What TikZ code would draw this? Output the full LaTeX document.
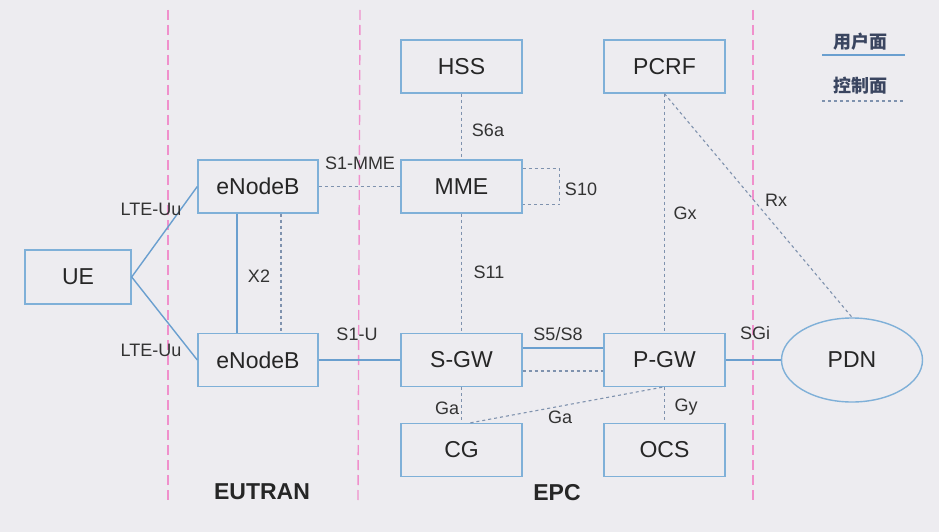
\documentclass[tikz,border=0pt]{standalone}
\usepackage{fontspec}
\setmainfont{Liberation Sans}
\newfontfamily\cjk{Noto Sans CJK SC}
\usetikzlibrary{shapes.geometric}
\definecolor{bg}{HTML}{EDECF0}
\definecolor{boxc}{HTML}{7FB0D8}
\definecolor{linec}{HTML}{6A9FCF}
\definecolor{dashc}{HTML}{7F92AE}
\definecolor{pinkc}{HTML}{F090CC}
\definecolor{txt}{HTML}{262626}
\definecolor{lbltxt}{HTML}{333333}
\definecolor{legc}{HTML}{3A4560}
\tikzset{
  nebox/.style={draw=boxc, line width=1.4pt, minimum width=121pt, minimum height=53pt, inner sep=0pt, text=txt, font=\fontsize{23}{26}\selectfont},
  uplane/.style={draw=linec, line width=1.4pt},
  ctrl/.style={draw=dashc, line width=1.1pt, dash pattern=on 3pt off 3pt},
  divider/.style={draw=pinkc, line width=1.4pt, dash pattern=on 10pt off 5pt},
  lbl/.style={text=lbltxt, font=\fontsize{18}{20}\selectfont, inner sep=0pt},
  domlabel/.style={text=txt, font=\fontsize{23}{26}\selectfont\bfseries, inner sep=0pt},
  legendtxt/.style={text=legc, font=\cjk\fontsize{18}{20}\selectfont\bfseries, inner sep=0pt}
}
\begin{document}
\begin{tikzpicture}[x=1pt,y=-1pt]
\useasboundingbox (0,0) rectangle (939,532);
\fill[bg] (0,0) rectangle (939,532);
% dividers
\coordinate (d1t) at (168,10); \coordinate (d1b) at (168,500);
\coordinate (d2t) at (360,10); \coordinate (d2b) at (358,500);
\coordinate (d3t) at (753,10); \coordinate (d3b) at (753,500);
\draw[divider] (d1t) -- (d1b);
\draw[divider] (d2t) -- (d2b);
\draw[divider] (d3t) -- (d3b);
% nodes
\node[nebox, minimum width=106pt, minimum height=54pt] (UE) at (78,277) {UE};
\node[nebox, minimum width=120pt] (eNB1) at (258,186.5) {eNodeB};
\node[nebox, minimum width=120pt] (eNB2) at (258,360) {eNodeB};
\node[nebox] (HSS) at (461.5,66.5) {HSS};
\node[nebox] (MME) at (461.5,186.5) {MME};
\node[nebox] (SGW) at (461.5,360) {S-GW};
\node[nebox] (CG) at (461.5,450) {CG};
\node[nebox] (PCRF) at (664.5,66.5) {PCRF};
\node[nebox] (PGW) at (664.5,360) {P-GW};
\node[nebox] (OCS) at (664.5,450) {OCS};
\node[nebox, ellipse, minimum width=141pt, minimum height=84pt] (PDN) at (852,360) {PDN};
% user plane
\draw[uplane] (UE.east) -- (eNB1.west);
\draw[uplane] (UE.east) -- (eNB2.west);
\draw[uplane] ([xshift=-21pt]eNB1.south) -- ([xshift=-21pt]eNB2.north);
\draw[uplane] (eNB2.east) -- (SGW.west);
\draw[uplane] ([yshift=12pt]SGW.east) -- ([yshift=12pt]PGW.west);
\draw[uplane] (PGW.east) -- (PDN.west);
% control plane
\draw[ctrl] ([xshift=23pt]eNB1.south) -- ([xshift=23pt]eNB2.north);
\draw[ctrl] (eNB1.east) -- (MME.west);
\draw[ctrl] (HSS.south) -- (MME.north);
\draw[ctrl] ([yshift=18pt]MME.east) -- ++(37pt,0) |- ([yshift=-18pt]MME.east);
\draw[ctrl] (MME.south) -- (SGW.north);
\draw[ctrl] ([yshift=-11pt]SGW.east) -- ([yshift=-11pt]PGW.west);
\draw[ctrl] (SGW.south) -- (CG.north);
\draw[ctrl] ([xshift=9pt]CG.north) -- ([xshift=-2pt]PGW.south);
\draw[ctrl] (PGW.south) -- (OCS.north);
\draw[ctrl] (PCRF.south) -- (PGW.north);
\draw[ctrl] (PCRF.south) -- (PDN.north);
% labels
\node[lbl] (lu1) at (151,209) {LTE-Uu};
\node[lbl] (lu2) at (151,350) {LTE-Uu};
\node[lbl] (lx2) at (259,276) {X2};
\node[lbl] (ls1m) at (360,163) {S1-MME};
\node[lbl] (ls1u) at (357,334) {S1-U};
\node[lbl] (ls6a) at (488,130) {S6a};
\node[lbl] (ls10) at (581,189) {S10};
\node[lbl] (ls11) at (489,272) {S11};
\node[lbl] (ls58) at (558,334) {S5/S8};
\node[lbl] (lga1) at (447,408) {Ga};
\node[lbl] (lga2) at (560,417) {Ga};
\node[lbl] (lgy) at (686,407) {Gy};
\node[lbl] (lgx) at (685,213) {Gx};
\node[lbl] (lrx) at (776,200) {Rx};
\node[lbl] (lsgi) at (755,333) {SGi};
\node[domlabel] (eutran) at (262,492) {EUTRAN};
\node[domlabel] (epc) at (557,493) {EPC};
% legend
\node[legendtxt] (leg1) at (860,42) {用户面};
\node[legendtxt] (leg2) at (860,86) {控制面};
\coordinate (l1a) at (822,55); \coordinate (l1b) at (905,55);
\coordinate (l2a) at (822,101); \coordinate (l2b) at (905,101);
\draw[uplane] (l1a) -- (l1b);
\draw[ctrl] (l2a) -- (l2b);
\end{tikzpicture}
\end{document}
